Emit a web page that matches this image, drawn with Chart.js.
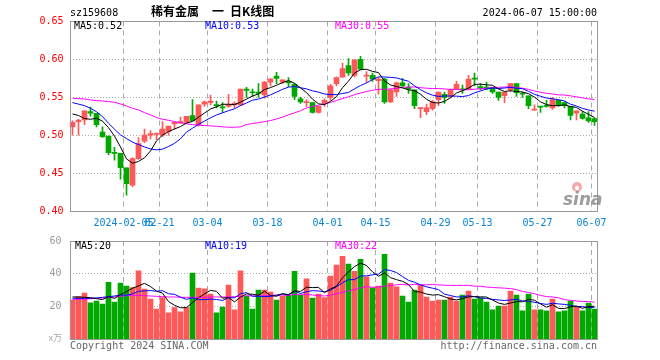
<!DOCTYPE html>
<html>
<head>
<meta charset="utf-8">
<script src="https://cdn.jsdelivr.net/npm/chart.js@4"></script>
<style>
  html, body { margin:0; padding:0; background:#fff; }
  #wrap { position:relative; width:660px; height:360px; }
  #wrap canvas { position:absolute; left:0; top:0; }
</style>
</head>
<body>
<div id="wrap">
  <canvas id="kline" width="660" height="360"></canvas>
  <canvas id="vol" width="660" height="360"></canvas>
</div>
<script>
// ---- Data ----
const dates = [
  '2024-01-23','2024-01-24','2024-01-25','2024-01-26','2024-01-29','2024-01-30','2024-01-31',
  '2024-02-01','2024-02-02','2024-02-05','2024-02-06','2024-02-07','2024-02-08',
  '2024-02-19','2024-02-20','2024-02-21','2024-02-22','2024-02-23','2024-02-26','2024-02-27','2024-02-28','2024-02-29',
  '2024-03-01','2024-03-04','2024-03-05','2024-03-06','2024-03-07','2024-03-08','2024-03-11','2024-03-12','2024-03-13',
  '2024-03-14','2024-03-15','2024-03-18','2024-03-19','2024-03-20','2024-03-21','2024-03-22','2024-03-25','2024-03-26',
  '2024-03-27','2024-03-28','2024-03-29','2024-04-01','2024-04-02','2024-04-03','2024-04-08','2024-04-09','2024-04-10',
  '2024-04-11','2024-04-12','2024-04-15','2024-04-16','2024-04-17','2024-04-18','2024-04-19','2024-04-22','2024-04-23',
  '2024-04-24','2024-04-25','2024-04-26','2024-04-29','2024-04-30','2024-05-06','2024-05-07','2024-05-08','2024-05-09',
  '2024-05-10','2024-05-13','2024-05-14','2024-05-15','2024-05-16','2024-05-17','2024-05-20','2024-05-21','2024-05-22',
  '2024-05-23','2024-05-24','2024-05-27','2024-05-28','2024-05-29','2024-05-30','2024-05-31','2024-06-03','2024-06-04',
  '2024-06-05','2024-06-06','2024-06-07'
];
const opens = [
  .511,.518,.520,.531,.529,.504,.499,.477,.476,.457,
  .434,.469,.492,.500,.501,.500,.505,.515,.516,.517,
  .526,.514,.541,.543,.540,.537,.538,.540,.540,.561,
  .557,.557,.553,.570,.578,.570,.571,.567,.548,.543,
  .543,.530,.542,.550,.568,.577,.592,.579,.600,.578,
  .579,.572,.574,.544,.557,.569,.563,.560,.535,.531,
  .535,.547,.554,.551,.561,.561,.561,.575,.564,.563,
  .563,.557,.552,.560,.568,.555,.552,.533,.538,.539,
  .536,.546,.543,.538,.529,.528,.523,.522
];
const highs = [
  .519,.521,.532,.537,.529,.511,.499,.484,.476,.457,
  .470,.497,.508,.506,.503,.518,.512,.518,.524,.525,
  .547,.540,.545,.553,.545,.543,.554,.544,.561,.563,
  .561,.568,.571,.575,.583,.573,.576,.568,.550,.547,
  .543,.538,.548,.567,.577,.595,.601,.600,.604,.584,
  .582,.576,.575,.561,.570,.575,.568,.560,.536,.541,
  .546,.557,.557,.561,.571,.566,.579,.582,.568,.570,
  .563,.557,.557,.568,.568,.557,.552,.540,.538,.546,
  .550,.546,.544,.538,.532,.531,.531,.523
];
const lows = [
  .500,.500,.514,.525,.511,.497,.474,.467,.442,.421,
  .432,.468,.490,.495,.494,.498,.500,.508,.516,.516,
  .519,.512,.538,.540,.536,.530,.537,.536,.539,.550,
  .551,.550,.549,.565,.568,.568,.564,.547,.542,.538,
  .529,.529,.538,.546,.565,.576,.579,.577,.586,.570,
  .571,.554,.542,.543,.551,.564,.555,.535,.523,.527,
  .533,.539,.542,.550,.560,.555,.560,.565,.560,.560,
  .555,.546,.543,.557,.551,.550,.535,.533,.530,.537,
  .534,.538,.536,.520,.520,.521,.517,.513
];
const closes = [
  .517,.520,.532,.529,.514,.498,.477,.476,.457,.436,
  .469,.489,.500,.502,.502,.508,.512,.517,.518,.525,
  .519,.540,.544,.545,.539,.536,.540,.542,.561,.559,
  .556,.555,.570,.574,.575,.573,.569,.551,.544,.544,
  .530,.538,.546,.565,.576,.588,.582,.599,.587,.579,
  .574,.574,.544,.560,.569,.565,.561,.539,.536,.536,
  .544,.557,.550,.560,.567,.560,.574,.574,.562,.562,
  .557,.550,.557,.568,.556,.554,.539,.534,.537,.538,
  .547,.539,.539,.526,.532,.522,.519,.518
];
// volume, in units of 10k (万)
const volumes = [
  24.0,26.1,28.3,22.4,23.4,21.6,34.9,22.8,34.3,32.5,
  31.7,41.8,30.7,24.6,18.6,25.5,16.2,19.4,16.8,19.4,
  40.4,31.3,30.9,27.7,16.2,19.8,33.1,18.0,41.8,26.3,
  18.6,30.1,30.1,28.9,24.0,26.5,27.1,41.6,27.1,37.0,
  25.3,27.7,25.5,38.6,45.3,50.7,45.9,41.6,48.9,38.2,
  31.5,32.5,51.9,34.3,32.1,26.5,22.8,30.1,33.1,25.9,
  23.4,24.0,24.0,25.9,23.4,27.1,29.5,24.6,25.3,22.8,
  18.0,20.4,20.4,29.5,27.1,17.4,27.7,18.0,18.0,17.4,
  24.6,16.8,17.4,23.4,19.8,17.4,22.2,18.6
];
// moving-average values at the left edge (they need days before the window)
const ma5Head  = [.528,.526,.522,.521];
const ma10Head = [.543,.541,.539,.5355,.531,.5246,.5158,.5079,.5004];
const ma30Head = [.5487,.5482,.5478,.5465,.5456,.5452,.5443,.5434,.5412,.5386,
                  .5355,.5333,.5298,.5268,.5232,.5211,.5197,.5180,.5167,.5149,
                  .5140,.5132,.5127,.5123,.5118,.5110,.5105,.5105,.5110];
const vma5Head  = [25.9,25.9,25.7,25.5];
const vma10Head = [25.1,25.1,25.1,25.1,25.3,25.7,26.1,26.5,27.1];
const vma30Head = [24.4,24.6,24.6,24.8,25.1,25.3,25.5,25.9,26.3,26.7,
                   26.9,26.9,26.7,26.5,26.3,26.1,25.9,25.9,25.7,25.7,
                   25.7,25.7,25.7,25.9,25.9,25.9,25.9,26.1,26.3];
// x-axis ticks
const tickDates = ['2024-02-05','2024-02-21','2024-03-04','2024-03-18','2024-04-01',
                   '2024-04-15','2024-04-29','2024-05-13','2024-05-27','2024-06-07'];
const tickText  = ['2024-02-05','02-21','03-04','03-18','04-01',
                   '04-15','04-29','05-13','05-27','06-07'];

// ---- Helpers ----
const RED = '#ff5858', GREEN = '#00a800';
const MONO = '"DejaVu Sans Mono", monospace';
const ma = (vals, n, head) => vals.map((_, i) => {
  if (i < n - 1) return head[i];
  let s = 0;
  for (let k = i - n + 1; k <= i; k++) s += vals[k];
  return s / n;
});
const colors = closes.map((c, i) => c >= opens[i] ? RED : GREEN);
const tickIdx = tickDates.map(d => dates.indexOf(d));

const ma5 = ma(closes, 5, ma5Head), ma10 = ma(closes, 10, ma10Head), ma30 = ma(closes, 30, ma30Head);
const vma5 = ma(volumes, 5, vma5Head), vma10 = ma(volumes, 10, vma10Head), vma30 = ma(volumes, 30, vma30Head);
const last = a => a[a.length - 1];

const lineSet = (data, color) => ({
  type: 'line', data, borderColor: color, borderWidth: 1,
  pointRadius: 0, tension: 0, order: 0
});

const xGrid = {
  offset: true, drawTicks: false,
  color: ctx => tickIdx.includes(ctx.index) ? '#aaa' : 'rgba(0,0,0,0)'
};

// frame + texts drawn over each chart
function framePlugin(texts){
  return {
    id: 'frame',
    afterDraw(chart){
      const { ctx, chartArea: a } = chart;
      ctx.save();
      ctx.strokeStyle = '#999';
      ctx.lineWidth = 1;
      const x0 = Math.ceil(a.left) + 0.5, x1 = Math.floor(a.right) + 0.5;
      const y0 = Math.floor(a.top) + 0.5, y1 = Math.floor(a.bottom) + 0.5;
      ctx.strokeRect(x0, y0, x1 - x0, y1 - y0);
      ctx.textBaseline = 'middle';
      texts.forEach(t => {
        ctx.font = t.font || ('10px ' + MONO);
        ctx.fillStyle = t.color || '#000';
        ctx.textAlign = t.align || 'left';
        ctx.fillText(t.text, t.x, t.y);
      });
      ctx.restore();
      if (chart.canvas.id === 'kline') drawLogo(ctx);
    }
  };
}

function drawLogo(ctx){
  ctx.save();
  ctx.fillStyle = 'rgba(240,110,110,0.6)';
  ctx.beginPath(); ctx.arc(577, 187, 5, 0, Math.PI * 2); ctx.fill();
  ctx.fillStyle = '#fff';
  ctx.beginPath(); ctx.arc(577, 188, 2.2, 0, Math.PI * 2); ctx.fill();
  ctx.fillStyle = 'rgba(140,140,140,0.85)';
  ctx.font = 'italic bold 17px "DejaVu Sans"';
  ctx.textBaseline = 'alphabetic';
  ctx.fillText('sina', 563, 205);
  ctx.restore();
}

// ---- Price (K-line) chart ----
new Chart(document.getElementById('kline'), {
  type: 'bar',
  data: {
    labels: dates,
    datasets: [
      lineSet(ma5, '#000'),
      lineSet(ma10, '#0000ff'),
      lineSet(ma30, '#ff00ff'),
      { data: opens.map((o, i) => [Math.min(o, closes[i]), Math.max(o, closes[i])]),
        backgroundColor: colors, barThickness: 5, minBarLength: 1, grouped: false, order: 1 },
      { data: lows.map((l, i) => [l, highs[i]]),
        backgroundColor: colors, barThickness: 1, grouped: false, order: 2 }
    ]
  },
  options: {
    responsive: false, animation: false,
    layout: { padding: { top: 21.5, right: 62.5, bottom: 129, left: 0 } },
    plugins: { legend: { display: false }, tooltip: { enabled: false } },
    scales: {
      x: {
        grid: xGrid,
        border: { display: false, dash: [5, 4] },
        ticks: {
          autoSkip: false, maxRotation: 0, padding: 6, labelOffset: -3, color: '#0a84d0',
          font: { family: MONO, size: 10 },
          callback: (v, i) => { const k = tickIdx.indexOf(i); return k < 0 ? '' : tickText[k]; }
        },
        afterFit: s => { s.height = 20; }
      },
      y: {
        min: 0.40, max: 0.65,
        grid: { color: '#aaa', drawTicks: false },
        border: { display: false, dash: [1, 2] },
        ticks: { stepSize: 0.05, padding: 6, color: '#ff0000',
                 font: { family: MONO, size: 10 }, callback: v => v.toFixed(2) },
        afterFit: s => { s.width = 69.5; }
      }
    }
  },
  plugins: [framePlugin([
    { text: 'sz159608', x: 70, y: 13 },
    { text: '稀有金属', x: 151, y: 11, font: '600 12px "Noto Sans CJK SC"' },
    { text: '一', x: 212, y: 11, font: '600 12px "Noto Sans CJK SC"' },
    { text: '日K线图', x: 230, y: 11, font: '600 12px "Noto Sans CJK SC"' },
    { text: '2024-06-07 15:00:00', x: 597, y: 13, align: 'right' },
    { text: 'MA5:' + last(ma5).toFixed(2), x: 74, y: 26.5 },
    { text: 'MA10:' + last(ma10).toFixed(2), x: 205, y: 26.5, color: '#0000ff' },
    { text: 'MA30:' + last(ma30).toFixed(2), x: 335, y: 26.5, color: '#ff00ff' }
  ])]
});

// ---- Volume chart ----
new Chart(document.getElementById('vol'), {
  type: 'bar',
  data: {
    labels: dates,
    datasets: [
      lineSet(vma5, '#000'),
      lineSet(vma10, '#0000ff'),
      lineSet(vma30, '#ff00ff'),
      { data: volumes, backgroundColor: colors, barThickness: 5, order: 1 }
    ]
  },
  options: {
    responsive: false, animation: false,
    layout: { padding: { top: 241, right: 62.5, bottom: 20.5, left: 0 } },
    plugins: { legend: { display: false }, tooltip: { enabled: false } },
    scales: {
      x: {
        grid: xGrid,
        border: { display: false, dash: [5, 4] },
        ticks: { display: false },
        afterFit: s => { s.height = 0; }
      },
      y: {
        min: 0, max: 60,
        grid: { color: '#aaa', drawTicks: false },
        border: { display: false, dash: [1, 2] },
        ticks: { stepSize: 20, padding: 8, color: '#999',
                 font: { family: MONO, size: 10 }, callback: v => v === 0 ? '' : v },
        afterFit: s => { s.width = 69.5; }
      }
    }
  },
  plugins: [framePlugin([
    { text: 'MA5:' + Math.floor(last(vma5)), x: 75, y: 246.5 },
    { text: 'MA10:' + Math.floor(last(vma10)), x: 205, y: 246.5, color: '#0000ff' },
    { text: 'MA30:' + Math.floor(last(vma30)), x: 335, y: 246.5, color: '#ff00ff' },
    { text: 'x万', x: 62, y: 338, align: 'right', color: '#aaa', font: '9px "Noto Sans CJK SC"' },
    { text: 'Copyright 2024 SINA.COM', x: 70, y: 346, color: '#666' },
    { text: 'http://finance.sina.com.cn', x: 597, y: 346, align: 'right', color: '#666' }
  ])]
});
</script>
</body>
</html>
